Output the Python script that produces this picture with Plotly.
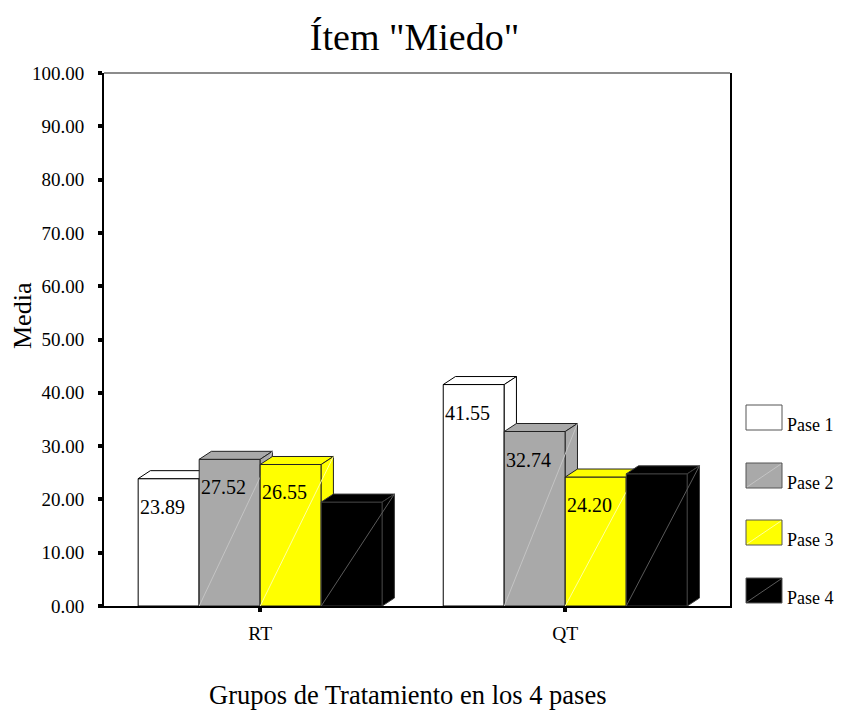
import plotly.graph_objects as go

# ---------------- data ----------------
categories = ["RT", "QT"]
series_names = ["Pase 1", "Pase 2", "Pase 3", "Pase 4"]
pase1 = [23.89, 41.55]
pase2 = [27.52, 32.74]
pase3 = [26.55, 24.20]
pase4 = [19.5, 24.8]
series_values = [pase1, pase2, pase3, pase4]
show_value_label = [True, True, True, False]
y_tick_values = [0, 10, 20, 30, 40, 50, 60, 70, 80, 90, 100]

# ---------------- style ----------------
FONT = "Liberation Serif, Times New Roman, serif"
face_colors = ["#ffffff", "#a9a9a9", "#ffff00", "#000000"]
edge_colors = ["#000000", "#222222", "#222222", "#3c3c3c"]
diag_colors = ["rgba(255,255,255,0)", "#c4c4c4", "#ffffa0", "#5a5a5a"]
BAR_W = 0.2          # width of one bar in category units
DEPTH_X = 0.04       # 3D depth (category units)
DEPTH_Y = 1.5        # 3D depth (value units)

# the page body adds an 8px margin, so the figure is 8px smaller
OFF = 8
W, H = 842 - OFF, 715 - OFF
M_L, M_R, M_T, M_B = 104 - OFF, 112, 73 - OFF, 109
PW, PH = W - M_L - M_R, H - M_T - M_B


def px_x(px):
    return (px - OFF - M_L) / PW


def px_y(py):
    return (H - M_B - (py - OFF)) / PH


fig = go.Figure()
annotations = []

n = len(series_names)
for ci, cat in enumerate(categories):
    for si in range(n):
        v = series_values[si][ci]
        x0 = ci - n * BAR_W / 2 + si * BAR_W
        x1 = x0 + BAR_W
        fc, ec = face_colors[si], edge_colors[si]
        common = dict(mode="lines", fill="toself", fillcolor=fc,
                      line=dict(color=ec, width=1), hoverinfo="skip",
                      showlegend=False)
        # front face
        fig.add_trace(go.Scatter(x=[x0, x1, x1, x0, x0], y=[0, 0, v, v, 0],
                                 name=series_names[si], **common))
        # top face
        fig.add_trace(go.Scatter(
            x=[x0, x0 + DEPTH_X, x1 + DEPTH_X, x1, x0],
            y=[v, v + DEPTH_Y, v + DEPTH_Y, v, v], **common))
        # side face
        fig.add_trace(go.Scatter(
            x=[x1, x1 + DEPTH_X, x1 + DEPTH_X, x1, x1],
            y=[0, DEPTH_Y, v + DEPTH_Y, v, 0], **common))
        # light rendering diagonal
        if si > 0:
            fig.add_trace(go.Scatter(
                x=[x0, x1 + DEPTH_X], y=[0, v + DEPTH_Y], mode="lines",
                line=dict(color=diag_colors[si], width=1),
                hoverinfo="skip", showlegend=False))
        if show_value_label[si]:
            annotations.append(dict(
                x=x0, y=v, xref="x", yref="y", text=f"{v:.2f}",
                showarrow=False, xanchor="left", yanchor="top",
                xshift=0, yshift=-15,
                font=dict(family=FONT, size=20, color="#000000")))

# ---------------- custom legend ----------------
shapes = []
box_tops = [405, 463, 520, 578]
for si, name in enumerate(series_names):
    top = box_tops[si]
    bottom = top + 25
    shapes.append(dict(type="rect", xref="paper", yref="paper",
                       x0=px_x(746), x1=px_x(782), y0=px_y(bottom), y1=px_y(top),
                       fillcolor=face_colors[si],
                       line=dict(color="#555555", width=1)))
    if si > 0:
        shapes.append(dict(type="line", xref="paper", yref="paper",
                           x0=px_x(747), x1=px_x(781), y0=px_y(bottom - 1),
                           y1=px_y(top + 1),
                           line=dict(color=diag_colors[si], width=1)))
    annotations.append(dict(x=px_x(785), y=px_y(bottom - 5), xref="paper",
                            yref="paper", text=name, showarrow=False,
                            xanchor="left", yanchor="middle",
                            font=dict(family=FONT, size=18, color="#000000")))

# top frame line (gray)
shapes.append(dict(type="line", xref="paper", yref="paper", x0=0, x1=1,
                   y0=1, y1=1, line=dict(color="#8c8c8c", width=2)))

# axis titles
annotations.append(dict(x=px_x(22), y=px_y(316), xref="paper", yref="paper",
                        text="Media", textangle=-90, showarrow=False,
                        xanchor="center", yanchor="middle",
                        font=dict(family=FONT, size=26, color="#000000")))
annotations.append(dict(x=px_x(407), y=px_y(695), xref="paper", yref="paper",
                        text="Grupos de Tratamiento en los 4 pases",
                        showarrow=False, xanchor="center", yanchor="middle",
                        font=dict(family=FONT, size=26.5, color="#000000")))

fig.update_layout(
    width=W, height=H,
    margin=dict(l=M_L, r=M_R, t=M_T, b=M_B),
    paper_bgcolor="#ffffff", plot_bgcolor="#ffffff",
    title=dict(text='Ítem "Miedo"', x=px_x(414.5), xref="paper",
               y=1 - (37 - OFF) / H, yref="container", xanchor="center",
               yanchor="middle",
               font=dict(family=FONT, size=38, color="#000000")),
    showlegend=False,
    shapes=shapes,
    annotations=annotations,
    font=dict(family=FONT, color="#000000"),
)
fig.update_xaxes(
    range=[-0.512, 1.540], tickmode="array", tickvals=list(range(len(categories))),
    ticktext=categories, showgrid=False, zeroline=False,
    showline=True, linecolor="#000000", linewidth=2, mirror=False,
    ticks="outside", ticklen=4, tickwidth=4, tickcolor="#000000",
    ticklabelstandoff=5,
    tickfont=dict(family=FONT, size=19.5, color="#000000"),
)
fig.update_yaxes(
    range=[0, 100], tickmode="array", tickvals=y_tick_values,
    ticktext=[f"{t:.2f}" for t in y_tick_values], showgrid=False,
    zeroline=False, showline=True, linecolor="#000000", linewidth=2,
    mirror=True, ticks="outside", ticklen=4, tickwidth=4, tickcolor="#000000",
    ticklabelstandoff=10,
    tickfont=dict(family=FONT, size=19, color="#000000"),
)

fig.write_html("out.html")
